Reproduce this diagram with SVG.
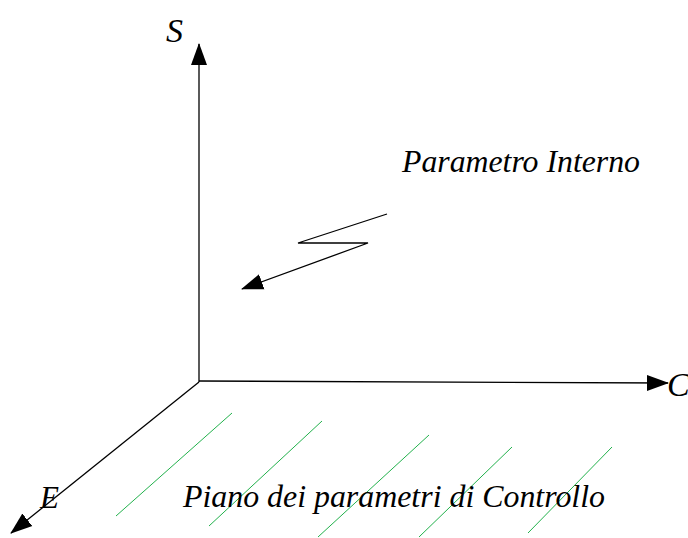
<svg xmlns="http://www.w3.org/2000/svg" width="688" height="538" viewBox="0 0 688 538">
<style>
.ax{stroke:#000;stroke-width:1.3;fill:none}
.g{stroke:#22b14c;stroke-width:1;fill:none}
text{font-family:"Liberation Serif",serif;font-style:italic;fill:#000;font-size:31px}
.big{font-size:34px}
</style>
<defs>
<marker id="ah" markerWidth="22" markerHeight="20" refX="21" refY="10" orient="auto" markerUnits="userSpaceOnUse">
<path d="M0,2 L22,10 L0,18 Z" fill="#000"/>
</marker>
</defs>
<rect width="688" height="538" fill="#fff"/>
<g id="connectors">
<line class="ax" x1="199" y1="382" x2="199" y2="44" marker-end="url(#ah)"/>
<line class="ax" x1="199" y1="381" x2="668" y2="383" marker-end="url(#ah)"/>
<line class="ax" x1="199" y1="382" x2="11" y2="533" marker-end="url(#ah)"/>
<polyline class="ax" points="387,214 298,243 368,243 242,289" marker-end="url(#ah)"/>
</g>
<g id="plane">
<line class="g" x1="232" y1="413" x2="116" y2="516"/>
<line class="g" x1="322" y1="421" x2="209" y2="526"/>
<line class="g" x1="429" y1="435" x2="318" y2="537"/>
<line class="g" x1="512" y1="447" x2="419" y2="537"/>
<line class="g" x1="612" y1="447" x2="528" y2="533"/>
</g>
<g id="labels">
<text class="big" x="166" y="42">S</text>
<text class="big" x="667" y="396">C</text>
<text x="40" y="508">E</text>
<text x="402" y="172" textLength="238" lengthAdjust="spacingAndGlyphs">Parametro Interno</text>
<text x="183" y="507" textLength="422" lengthAdjust="spacingAndGlyphs">Piano dei parametri di Controllo</text>
</g>
</svg>
